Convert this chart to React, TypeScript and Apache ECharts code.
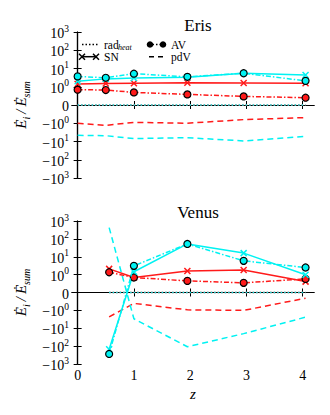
import React, { useEffect, useRef } from "react";
import * as echarts from "echarts";

const xTicks = [0, 1, 2, 3, 4];

const zEris = [0, 0.5, 1, 1.95, 2.95, 4.05];
const erisRadRed = [0, 0, 0, 0, 0, 0];
const erisRadCyan = [0, 0, 0, 0, 0, 0];
const erisSnRed = [1.4, 1.5, 1.55, 1.65, 1.6, 1.55];
const erisSnCyan = [2.0, 2.7, 3.0, 3.3, 5.5, 4.4];
const erisAvRed = [0.84, 0.82, 0.69, 0.58, 0.47, 0.4];
const erisAvCyan = [3.7, 3.1, 5.2, 3.5, 5.5, 2.1];
const erisPdvRed = [-1.0, -1.3, -0.95, -1.0, -0.8, -0.69];
const erisPdvCyan = [-4.6, -4.8, -6.9, -6.2, -9.3, -5.2];

const zVenus = [0.56, 1, 1.95, 2.95, 4.05];
const venusRadRed = [0, 0, 0, 0, 0];
const venusRadCyan = [0, 0, 0, 0, 0];
const venusSnRed = [2.1, 0.84, 1.6, 1.8, 0.61];
const venusSnCyan = [-150, 1.45, 52, 16, 0.99];
const venusAvRed = [1.36, 0.84, 0.65, 0.54, 0.76];
const venusAvCyan = [-275, 3.1, 52, 5.9, 2.5];
const venusPdvRed = [-2.3, -0.61, -0.97, -1.0, -0.32];
const venusPdvCyan = [427, -2.95, -108, -20, -2.4];

const RED = "#ff1a1a";
const CYAN = "#00f2f2";
const FONT = "Liberation Serif";

function tf(v: number) {
  const a = Math.abs(v);
  if (a <= 1) return v;
  return Math.sign(v) * (Math.log10(a) + 1);
}

function yLabel(t: number) {
  const r = Math.round(t);
  if (r === 0) return "{b|0}";
  const e = Math.abs(r) - 1;
  return r > 0 ? `{b|10}{s|${e}}` : `{b|\u221210}{s|${e}}`;
}

const X_PATH = "path://M0,0L10,10M10,0L0,10";

type Kind = "rad" | "sn" | "av" | "pdv";

function mk(kind: Kind, color: string, grid: number, zs: number[], vals: number[]) {
  const data = zs.map((z, i) => [z, tf(vals[i])]);
  const base: any = {
    type: "line",
    xAxisIndex: grid * 2,
    yAxisIndex: grid * 2,
    data,
    silent: true,
    lineStyle: { color, width: 1.5 },
    itemStyle: { color },
    z: color === CYAN ? 3 : 2,
  };
  if (kind === "rad") {
    base.showSymbol = false;
    base.symbol = "none";
    base.lineStyle.type = [1.5, 2];
  } else if (kind === "sn") {
    base.symbol = X_PATH;
    base.symbolSize = 6;
    base.itemStyle = { color: "none", borderColor: color, borderWidth: 1.5 };
  } else if (kind === "av") {
    base.symbol = "circle";
    base.symbolSize = 7;
    base.lineStyle.type = [5, 2, 1.5, 2];
    base.itemStyle = { color, borderColor: "#000", borderWidth: 1.2 };
    base.z = color === CYAN ? 4 : 3;
  } else {
    base.symbol = "none";
    base.lineStyle.type = [6, 4];
  }
  return base;
}

const grids = [
  { left: 72, right: 16, top: 32, height: 146 },
  { left: 72, right: 16, top: 221, height: 143 },
];

function axesFor(g: number) {
  const xs: any[] = [
    {
      type: "value",
      gridIndex: g,
      position: "bottom",
      min: -0.1,
      max: 4.2,
      axisLine: { lineStyle: { color: "#000", width: 1.2 } },
      axisTick: { inside: true, length: 4, lineStyle: { color: "#000" }, customValues: xTicks },
      axisLabel: {
        show: g === 1,
        customValues: xTicks,
        fontFamily: FONT,
        fontSize: 14,
        color: "#000",
        margin: 4,
      },
      splitLine: { show: false },
      name: g === 1 ? "z" : "",
      nameLocation: "middle",
      nameGap: 22,
      nameTextStyle: { fontFamily: FONT, fontStyle: "italic", fontSize: 15, color: "#000" },
    },
    {
      type: "value",
      gridIndex: g,
      position: "top",
      min: -0.1,
      max: 4.2,
      axisLine: { lineStyle: { color: "#000", width: 1.2 } },
      axisTick: { inside: true, length: 4, lineStyle: { color: "#000" }, customValues: xTicks },
      axisLabel: { show: false },
      splitLine: { show: false },
    },
  ];
  const rich = {
    b: { fontFamily: FONT, fontSize: 14, color: "#000", lineHeight: 17, verticalAlign: "bottom" },
    s: { fontFamily: FONT, fontSize: 9.5, color: "#000", lineHeight: 10, verticalAlign: "top" },
  };
  const ys: any[] = [
    {
      type: "value",
      gridIndex: g,
      position: "left",
      min: -4,
      max: 4,
      interval: 1,
      axisLine: { show: true, lineStyle: { color: "#000", width: 1.2 } },
      axisTick: { show: true, inside: true, length: 4, lineStyle: { color: "#000" } },
      axisLabel: {
        formatter: (v: number) => yLabel(v),
        rich,
        margin: 3,
      },
      splitLine: { show: false },
      name: "{e|\u0116}{sb|i}{e|\u2009/\u2009\u0116}{sb|sum}",
      nameLocation: "middle",
      nameRotate: 90,
      nameGap: 38,
      nameTextStyle: {
        rich: {
          e: { fontFamily: FONT, fontStyle: "italic", fontSize: 15, color: "#000", lineHeight: 18, verticalAlign: "top" },
          sb: { fontFamily: FONT, fontStyle: "italic", fontSize: 10, color: "#000", lineHeight: 18, verticalAlign: "bottom" },
        },
      },
    },
    {
      type: "value",
      gridIndex: g,
      position: "right",
      min: -4,
      max: 4,
      interval: 1,
      axisLine: { show: true, lineStyle: { color: "#000", width: 1.2 } },
      axisTick: { show: true, inside: true, length: 4, lineStyle: { color: "#000" } },
      axisLabel: { show: false },
      splitLine: { show: false },
    },
  ];
  return { xs, ys };
}

function legendGraphics() {
  const els: any[] = [];
  const black = "#000";
  const y1 = 44.5;
  const y2 = 56.7;
  const txt = (x: number, y: number, t: string, size = 11.5, italic = false) => ({
    type: "text",
    x,
    y,
    style: {
      text: t,
      fontFamily: FONT,
      fontSize: size,
      fontStyle: italic ? "italic" : "normal",
      fill: black,
      verticalAlign: "middle",
    },
    silent: true,
  });
  // rad_heat
  els.push({ type: "line", shape: { x1: 82, y1, x2: 98, y2: y1 }, style: { stroke: black, lineWidth: 1.3, lineDash: [1.5, 2] }, silent: true });
  els.push(txt(104, y1, "rad"));
  els.push(txt(118, y1 + 3, "heat", 8, true));
  // SN
  els.push({ type: "line", shape: { x1: 82, y1: y2, x2: 96, y2 }, style: { stroke: black, lineWidth: 1.5 }, silent: true });
  [82, 96].forEach((cx) => {
    els.push({ type: "line", shape: { x1: cx - 3, y1: y2 - 3, x2: cx + 3, y2: y2 + 3 }, style: { stroke: black, lineWidth: 1.5 }, silent: true });
    els.push({ type: "line", shape: { x1: cx - 3, y1: y2 + 3, x2: cx + 3, y2: y2 - 3 }, style: { stroke: black, lineWidth: 1.5 }, silent: true });
  });
  els.push(txt(104, y2, "SN"));
  // AV
  els.push({ type: "line", shape: { x1: 150, y1, x2: 163, y2: y1 }, style: { stroke: black, lineWidth: 1.5, lineDash: [4, 2, 1.5, 2] }, silent: true });
  [150, 163].forEach((cx) => {
    els.push({ type: "circle", shape: { cx, cy: y1, r: 3.3 }, style: { fill: black }, silent: true });
  });
  els.push(txt(171, y1, "AV"));
  // pdV
  els.push({ type: "line", shape: { x1: 149, y1: y2, x2: 164, y2 }, style: { stroke: black, lineWidth: 1.5, lineDash: [5, 4] }, silent: true });
  els.push(txt(171, y2, "pdV"));
  return els;
}

export default function App() {
  const ref = useRef<HTMLDivElement>(null);
  useEffect(() => {
    if (!ref.current) return;
    const chart = echarts.init(ref.current, undefined, { renderer: "svg" });
    const a0 = axesFor(0);
    const a1 = axesFor(1);
    const option: any = {
      animation: false,
      backgroundColor: "#fff",
      title: [
        { text: "Eris", left: 193, top: 12, textAlign: "center", textStyle: { fontFamily: FONT, fontSize: 17, fontWeight: "normal", color: "#000" } },
        { text: "Venus", left: 193, top: 199, textAlign: "center", textStyle: { fontFamily: FONT, fontSize: 17, fontWeight: "normal", color: "#000" } },
      ],
      grid: grids,
      xAxis: [...a0.xs, ...a1.xs],
      yAxis: [...a0.ys, ...a1.ys],
      series: [
        mk("rad", RED, 0, zEris, erisRadRed),
        mk("sn", RED, 0, zEris, erisSnRed),
        mk("av", RED, 0, zEris, erisAvRed),
        mk("pdv", RED, 0, zEris, erisPdvRed),
        mk("rad", CYAN, 0, zEris, erisRadCyan),
        mk("sn", CYAN, 0, zEris, erisSnCyan),
        mk("av", CYAN, 0, zEris, erisAvCyan),
        mk("pdv", CYAN, 0, zEris, erisPdvCyan),
        mk("rad", RED, 1, zVenus, venusRadRed),
        mk("sn", RED, 1, zVenus, venusSnRed),
        mk("av", RED, 1, zVenus, venusAvRed),
        mk("pdv", RED, 1, zVenus, venusPdvRed),
        mk("rad", CYAN, 1, zVenus, venusRadCyan),
        mk("sn", CYAN, 1, zVenus, venusSnCyan),
        mk("av", CYAN, 1, zVenus, venusAvCyan),
        mk("pdv", CYAN, 1, zVenus, venusPdvCyan),
      ],
      graphic: legendGraphics(),
    };
    chart.setOption(option);
    return () => chart.dispose();
  }, []);
  return (
    <div
      ref={ref}
      style={{ position: "fixed", left: 0, top: 0, width: 330, height: 415, background: "#fff" }}
    />
  );
}
